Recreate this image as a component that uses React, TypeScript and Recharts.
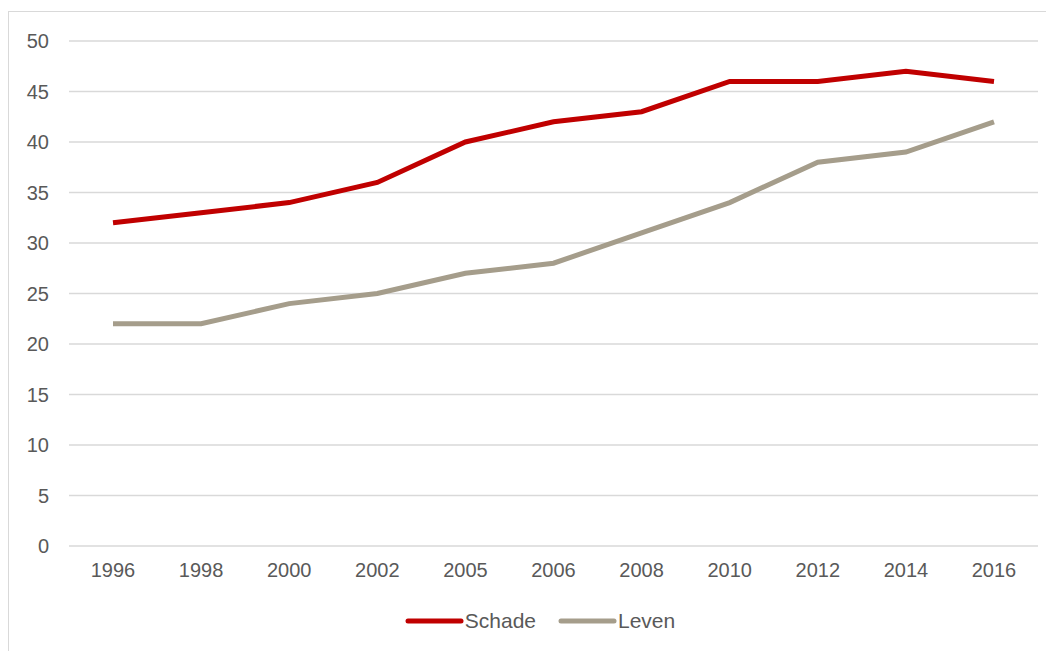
import React from "react";
import { LineChart, Line, XAxis, YAxis, CartesianGrid, Legend } from "recharts";

const years = ["1996", "1998", "2000", "2002", "2005", "2006", "2008", "2010", "2012", "2014", "2016"];
const schade = [32, 33, 34, 36, 40, 42, 43, 46, 46, 47, 46];
const leven = [22, 22, 24, 25, 27, 28, 31, 34, 38, 39, 42];
const yTicks = [0, 5, 10, 15, 20, 25, 30, 35, 40, 45, 50];

const data = years.map((y, i) => ({ year: y, Schade: schade[i], Leven: leven[i] }));

const FONT = "'Liberation Sans', Arial, sans-serif";
const TEXT = "#595959";
const RED = "#C00000";
const TAN = "#A59D8B";

const LegendContent = () => {
  const items = [
    { name: "Schade", color: RED },
    { name: "Leven", color: TAN },
  ];
  return (
    <div style={{ display: "flex", justifyContent: "center", alignItems: "center", fontFamily: FONT, fontSize: 21, color: TEXT, paddingLeft: 26 }}>
      {items.map((it, i) => (
        <div key={it.name} style={{ display: "flex", alignItems: "center", marginLeft: i === 0 ? 0 : 22 }}>
          <svg width={59} height={10} style={{ marginRight: 1 }}>
            <line x1={3} y1={5} x2={56} y2={5} stroke={it.color} strokeWidth={5} strokeLinecap="round" />
          </svg>
          <span>{it.name}</span>
        </div>
      ))}
    </div>
  );
};

export default function App() {
  return (
    <div style={{ position: "relative", width: 1046, height: 643 }}>
      <div
        style={{
          position: "absolute",
          left: 0,
          top: 3,
          width: 1046,
          height: 640,
          boxSizing: "border-box",
          borderLeft: "1px solid #d9d9d9",
          borderTop: "1px solid #d9d9d9",
        }}
      />
      <div style={{ position: "absolute", left: -8, top: -8 }}>
        <LineChart width={1054} height={651} data={data} margin={{ top: 41, right: 16, bottom: 0, left: 0 }}>
          <CartesianGrid vertical={false} stroke="#d9d9d9" strokeWidth={1.5} />
          <XAxis
            dataKey="year"
            axisLine={false}
            tickLine={false}
            tickSize={0}
            tickMargin={17}
            height={81}
            padding={{ left: 44, right: 44 }}
            tick={{ fill: TEXT, fontSize: 20, fontFamily: FONT }}
            interval={0}
          />
          <YAxis
            domain={[0, 50]}
            ticks={yTicks}
            axisLine={false}
            tickLine={false}
            tickSize={0}
            tickMargin={20}
            width={69}
            tick={{ fill: TEXT, fontSize: 20, fontFamily: FONT }}
          />
          <Legend
            content={<LegendContent />}
            wrapperStyle={{ position: "absolute", top: 609, left: 0, width: 1054 }}
          />
          <Line type="linear" dataKey="Schade" stroke={RED} strokeWidth={5} dot={false} isAnimationActive={false} />
          <Line type="linear" dataKey="Leven" stroke={TAN} strokeWidth={5} dot={false} isAnimationActive={false} />
        </LineChart>
      </div>
    </div>
  );
}
